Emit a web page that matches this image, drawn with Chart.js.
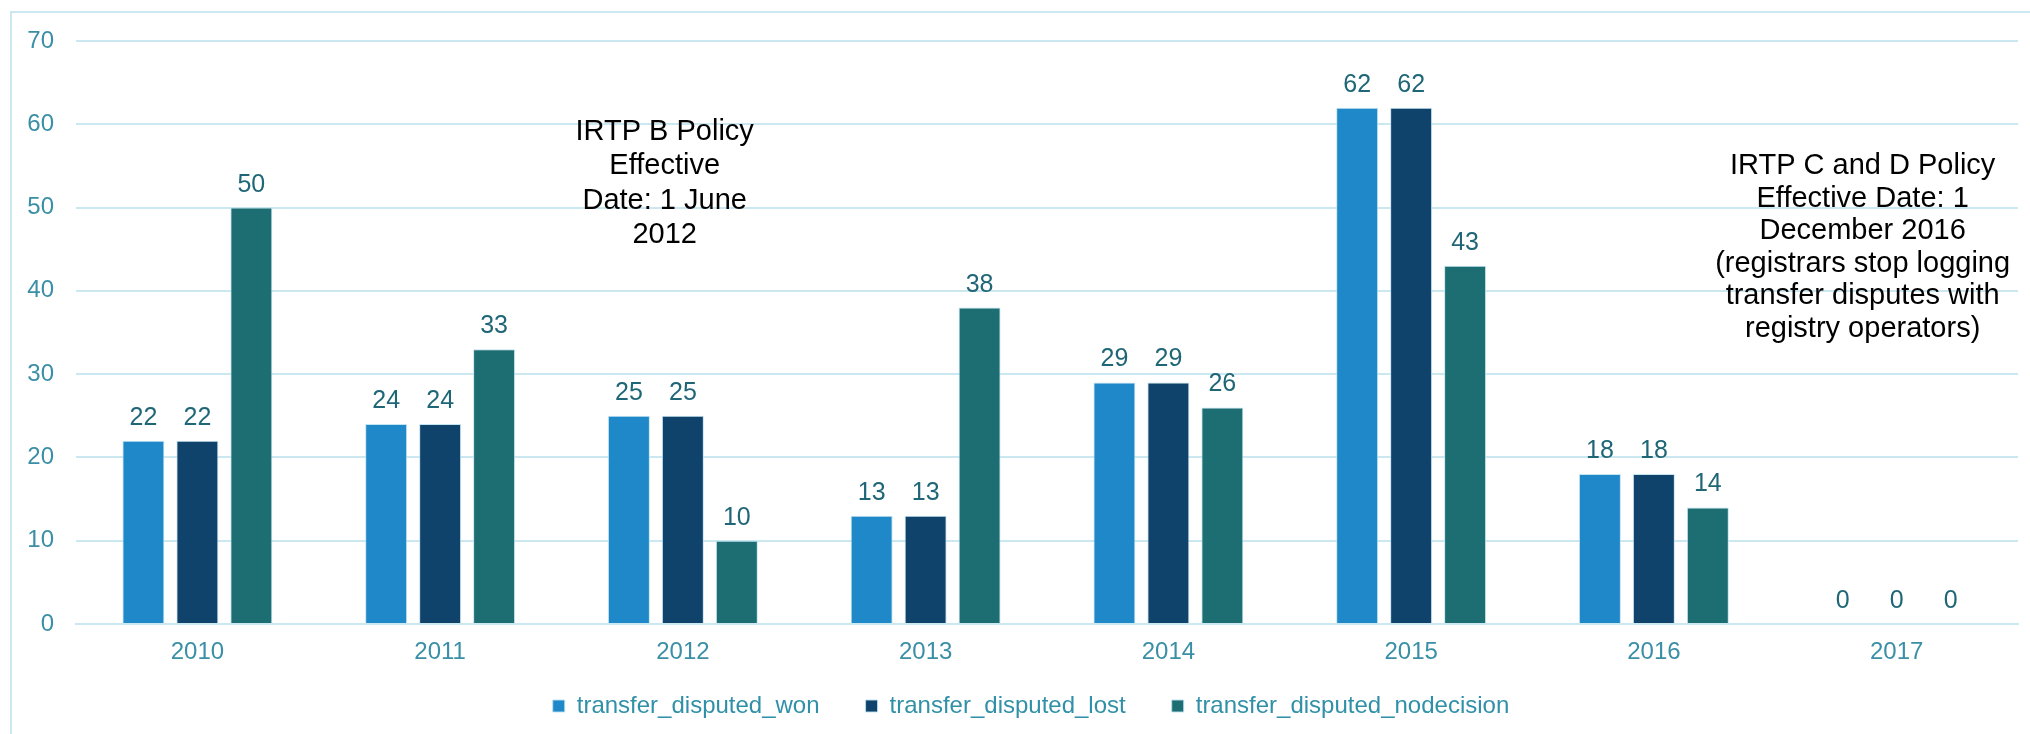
<!DOCTYPE html>
<html>
<head>
<meta charset="utf-8">
<script src="https://cdn.jsdelivr.net/npm/chart.js@4/dist/chart.umd.min.js"></script>
<style>
html, body { margin: 0; padding: 0; background: #fff; overflow: hidden; }
#wrap { position: relative; width: 2030px; height: 734px; overflow: hidden; }
#frame { position: absolute; left: 10px; top: 11px; width: 2100px; height: 740px; border: 2px solid #cbe7ef; box-sizing: border-box; }
canvas { position: absolute; left: 0; top: 0; }
</style>
</head>
<body>
<div id="wrap"><div id="frame"></div><canvas id="chart" width="2030" height="734"></canvas></div>
<script>
// transfer disputes per year
const years = ['2010', '2011', '2012', '2013', '2014', '2015', '2016', '2017'];
const disputedWon = [22, 24, 25, 13, 29, 62, 18, 0];
const disputedLost = [22, 24, 25, 13, 29, 62, 18, 0];
const disputedNodecision = [50, 33, 10, 38, 26, 43, 14, 0];
const yMax = 70;
const yStep = 10;

const noteB = ['IRTP B Policy', 'Effective', 'Date: 1 June', '2012'];
const noteCD = ['IRTP C and D Policy', 'Effective Date: 1', 'December 2016', '(registrars stop logging', 'transfer disputes with', 'registry operators)'];

const FONT = '"Liberation Sans", Arial, sans-serif';

// numbers above the bars
const valueLabels = {
    id: 'valueLabels',
    afterDatasetsDraw(chart) {
        const ctx = chart.ctx;
        ctx.save();
        ctx.font = '25px ' + FONT;
        ctx.fillStyle = '#1f6677';
        ctx.textAlign = 'center';
        ctx.textBaseline = 'alphabetic';
        chart.data.datasets.forEach((ds, i) => {
            chart.getDatasetMeta(i).data.forEach((bar, j) => {
                ctx.fillText(ds.data[j], bar.x, bar.y - 16);
            });
        });
        ctx.restore();
    }
};

// policy notes
const policyNotes = {
    id: 'policyNotes',
    afterDraw(chart) {
        const { ctx, scales: { x, y } } = chart;
        const notes = [
            { lines: noteB, at: 1.925, top: 59.1, step: 34.5 },
            { lines: noteCD, at: 6.86, top: 55.0, step: 32.6 }
        ];
        ctx.save();
        ctx.font = '29px ' + FONT;
        ctx.fillStyle = '#000';
        ctx.textAlign = 'center';
        ctx.textBaseline = 'middle';
        notes.forEach(n => {
            const cx = x.getPixelForValue(n.at);
            const cy = y.getPixelForValue(n.top);
            n.lines.forEach((t, k) => ctx.fillText(t, cx, cy + k * n.step));
        });
        ctx.restore();
    }
};

// legend keeps wide gaps between items but sits closer to the axis
const legendPlace = {
    id: 'legendPlace',
    afterInit(chart) {
        const lg = chart.legend;
        const fit = lg.fit.bind(lg);
        lg.fit = function () { fit(); this.height = 62; };
    },
    afterLayout(chart) {
        const lg = chart.legend;
        lg.top -= 24;
        lg.left += 22; lg.right += 22;
    }
};

new Chart(document.getElementById('chart'), {
    type: 'bar',
    data: {
        labels: years,
        datasets: [
            { label: 'transfer_disputed_won', data: disputedWon, backgroundColor: '#1e88c8' },
            { label: 'transfer_disputed_lost', data: disputedLost, backgroundColor: '#0f436b' },
            { label: 'transfer_disputed_nodecision', data: disputedNodecision, backgroundColor: '#1c6e73' }
        ]
    },
    options: {
        responsive: false,
        animation: false,
        layout: { padding: { left: 0, right: 12, top: 41, bottom: 0 } },
        datasets: {
            bar: {
                categoryPercentage: 0.667,
                barPercentage: 0.778,
                borderWidth: 1,
                borderColor: 'rgba(190,225,238,0.9)'
            }
        },
        scales: {
            x: {
                grid: { display: false, drawTicks: false },
                border: { display: true, color: '#cbe7ef', width: 2 },
                ticks: { color: '#3a8fa6', font: { family: FONT, size: 24 }, padding: 14 },
                afterFit(s) { s.height = 48; }
            },
            y: {
                min: 0,
                max: yMax,
                ticks: { stepSize: yStep, color: '#3a8fa6', font: { family: FONT, size: 24 }, padding: 22 },
                grid: { color: '#cbe7ef', lineWidth: 2, drawTicks: false },
                border: { display: false },
                afterFit(s) { s.width = 76; }
            }
        },
        plugins: {
            legend: {
                position: 'bottom',
                labels: {
                    boxWidth: 12,
                    boxHeight: 12,
                    padding: 46,
                    color: '#3090a8',
                    font: { family: FONT, size: 24 }
                }
            },
            tooltip: { enabled: false }
        }
    },
    plugins: [valueLabels, policyNotes, legendPlace]
});
</script>
</body>
</html>
